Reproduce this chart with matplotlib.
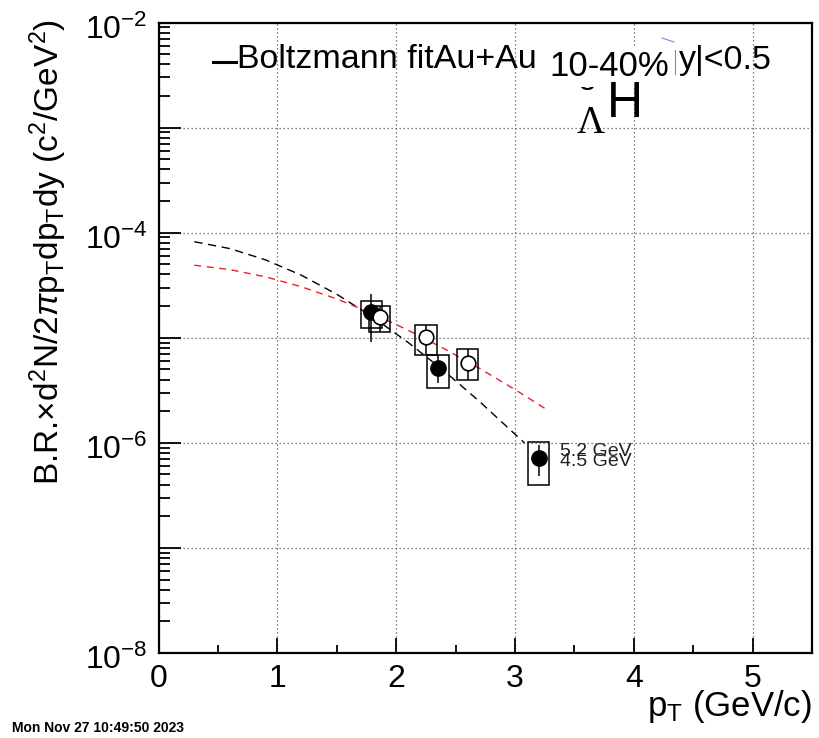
import matplotlib
matplotlib.use('Agg')
import matplotlib.pyplot as plt
import matplotlib.transforms as mtransforms
from matplotlib.patches import Rectangle
from matplotlib.ticker import FixedLocator, FuncFormatter, LogLocator, MultipleLocator, NullFormatter
import numpy as np

plt.rcParams['font.family'] = ['Liberation Sans', 'DejaVu Sans']
plt.rcParams['mathtext.fontset'] = 'custom'
plt.rcParams['mathtext.rm'] = 'Liberation Sans'
plt.rcParams['mathtext.it'] = 'Liberation Sans:italic'
plt.rcParams['mathtext.bf'] = 'Liberation Sans:bold'
plt.rcParams['mathtext.sf'] = 'Liberation Sans'

W, H = 819, 738

# filled circles
pt_a = [1.79, 2.35, 3.20]
y_a = [1.76e-5, 5.1e-6, 7.1e-7]
stat_lo_a = [9.1e-6, 3.7e-6, 4.8e-7]
stat_hi_a = [2.6e-5, 6.8e-6, 9.5e-7]
sys_lo_a = [1.25e-5, 3.34e-6, 4.0e-7]
sys_hi_a = [2.24e-5, 6.8e-6, 1.02e-6]

# open circles
pt_b = [1.86, 2.25, 2.60]
y_b = [1.56e-5, 1.01e-5, 5.77e-6]
stat_lo_b = [1.14e-5, 6.84e-6, 3.96e-6]
stat_hi_b = [2.01e-5, 1.32e-5, 7.74e-6]
sys_lo_b = [1.14e-5, 6.84e-6, 3.96e-6]
sys_hi_b = [2.01e-5, 1.32e-5, 7.74e-6]

# boltzmann fits
fit_pt_k = [0.3, 0.6, 0.9, 1.2, 1.5, 1.8, 2.1, 2.4, 2.7, 3.08]
fit_k = [8.2e-5, 7.05e-5, 5.51e-5, 3.94e-5, 2.59e-5, 1.58e-5, 9.02e-6, 4.86e-6, 2.48e-6, 9.96e-7]
fit_pt_r = [0.3, 0.6, 0.9, 1.2, 1.5, 1.8, 2.1, 2.4, 2.7, 3.0, 3.25]
fit_r = [4.9e-5, 4.45e-5, 3.80e-5, 3.06e-5, 2.34e-5, 1.70e-5, 1.18e-5, 7.91e-6, 5.12e-6, 3.21e-6, 2.13e-6]

temp_labels = ['5.2 GeV', '4.5 GeV']

SYS_DX = 0.09


def px(x, y):
    # pixel position (from top-left) -> figure fraction
    return x / W, 1 - y / H


fig = plt.figure(figsize=(W / 100, H / 100), dpi=100)
l, b = px(158.7, 653)
r, t = px(812, 22.5)
ax = fig.add_axes([l, b, r - l, t - b])

ax.set_xlim(0, 5.5)
ax.set_yscale('log')
ax.set_ylim(1e-8, 1e-2)

ax.yaxis.set_major_locator(FixedLocator([10.0 ** e for e in range(-8, -1)]))
ax.yaxis.set_minor_locator(LogLocator(base=10, subs=np.arange(2, 10)))
ax.yaxis.set_minor_formatter(NullFormatter())


def even_decades(v, pos):
    e = int(round(np.log10(v)))
    return r'$10^{%d}$' % e if e % 2 == 0 else ''


ax.yaxis.set_major_formatter(FuncFormatter(even_decades))
ax.xaxis.set_major_locator(MultipleLocator(1))
ax.xaxis.set_minor_locator(MultipleLocator(0.5))

ax.tick_params(which='both', direction='in', top=False, right=False, width=1.3)
ax.tick_params(axis='y', which='major', length=16, pad=8, labelsize=23)
ax.tick_params(axis='y', which='minor', length=8)
ax.tick_params(axis='x', which='major', length=11, pad=8, labelsize=23)
ax.tick_params(axis='x', which='minor', length=6)
for s in ax.spines.values():
    s.set_linewidth(1.6)

# decade labels sit a little below their ticks
shift = mtransforms.ScaledTranslation(0, -4 / 100, fig.dpi_scale_trans)
for lab in ax.get_yticklabels():
    lab.set_transform(lab.get_transform() + shift)

ax.grid(True, which='major', linestyle=(0, (1, 2.2)), color='0.35', linewidth=0.9)

# fit curves
ax.plot(fit_pt_k, fit_k, color='black', lw=1.0, ls=(0, (6, 4)), zorder=3)
ax.plot(fit_pt_r, fit_r, color='#e8202a', lw=1.0, ls=(0, (5, 4)), zorder=3)

# systematic boxes
for p, lo, hi in zip(pt_a + pt_b, sys_lo_a + sys_lo_b, sys_hi_a + sys_hi_b):
    ax.add_patch(Rectangle((p - SYS_DX, lo), 2 * SYS_DX, hi - lo, fill=False,
                           edgecolor='black', lw=1.1, zorder=4))

# statistical errors
ax.vlines(pt_a, stat_lo_a, stat_hi_a, color='black', lw=1.1, zorder=5)
ax.vlines(pt_b, stat_lo_b, stat_hi_b, color='black', lw=1.1, zorder=5)

ax.plot(pt_a, y_a, 'o', color='black', ms=11, zorder=6)
ax.plot(pt_b, y_b, 'o', mfc='white', mec='black', mew=1.2, ms=10.5, zorder=7)

for lab, yy in zip(temp_labels, [456, 466]):
    fig.text(*px(560, yy), lab, fontsize=14, va='baseline', color='#222222')

# legend entry and header texts
fig.add_artist(plt.Line2D([213 / W, 236 / W], [1 - 62 / H] * 2, color='black', lw=2.2))
fig.text(*px(237, 68.5), 'Boltzmann fitAu+Au', fontsize=24.5, va='baseline')
fig.text(*px(587, 90), '3', fontsize=22, ha='center', va='baseline', zorder=1)
fig.text(*px(549, 76), '10-40%', fontsize=25, va='baseline', zorder=3,
         bbox=dict(facecolor='white', edgecolor='none', pad=3))
fig.text(*px(679, 68.5), 'y|<0.5', fontsize=24.5, va='baseline')
fig.add_artist(plt.Line2D([675 / W] * 2, [1 - 50 / H, 1 - 74 / H], color='#8c7fd0', lw=0.8))
fig.add_artist(plt.Line2D([662 / W, 674 / W], [1 - 38 / H, 1 - 42 / H], color='#8c7fd0', lw=0.8))
fig.text(*px(591, 133), '\u039b', fontsize=28, ha='center', va='baseline',
         family=['Liberation Serif', 'DejaVu Serif'])
fig.text(*px(607, 117), 'H', fontsize=36, va='baseline')

# axis titles
fig.text(*px(48, 19), r'B.R.$\times$d$^{2}$N/2$\pi$p$_{\rm T}$dp$_{\rm T}$dy (c$^{2}$/GeV$^{2}$)',
         fontsize=24, rotation=90, ha='center', va='top')
fig.text(*px(812, 716), r'p$_{\rm T}$ (GeV/c)', fontsize=25, ha='right', va='baseline')

fig.text(*px(12, 732), 'Mon Nov 27 10:49:50 2023', fontsize=10, fontweight='bold', va='baseline')

fig.savefig('out.png', dpi=100)
